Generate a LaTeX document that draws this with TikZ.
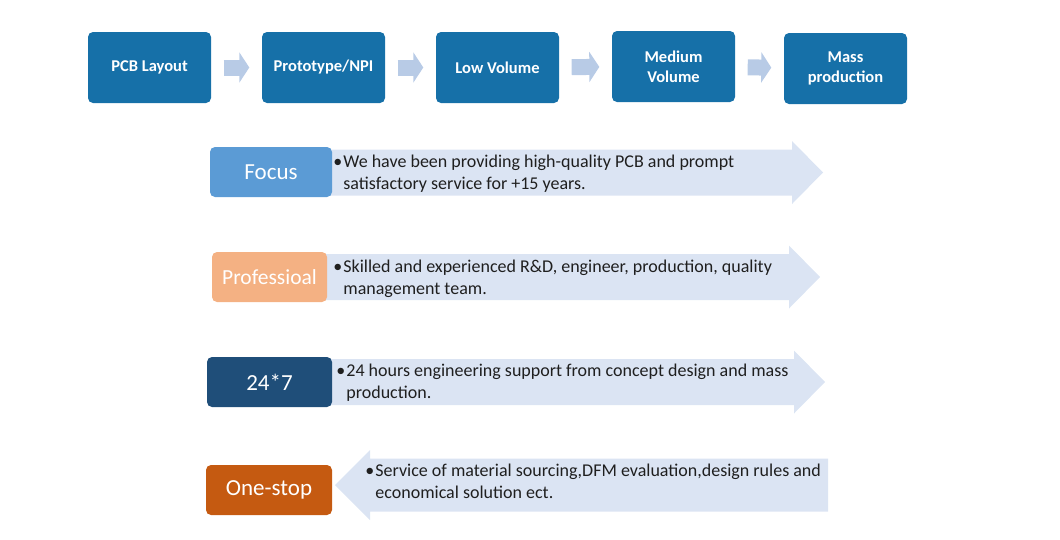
\documentclass[tikz,border=0pt]{standalone}
\usepackage{fontspec}
\setmainfont{Carlito}
\usetikzlibrary{positioning,arrows.meta}

\definecolor{stageblue}{RGB}{22,112,168}
\definecolor{chevblue}{RGB}{184,203,230}
\definecolor{bandblue}{RGB}{219,228,243}
\definecolor{focusblue}{RGB}{91,155,213}
\definecolor{profpeach}{RGB}{244,177,131}
\definecolor{navyblue}{RGB}{31,78,121}
\definecolor{stoporange}{RGB}{197,90,17}

\newcommand{\bulletlines}[2]{\makebox[10pt][l]{\textbullet}%
  \begin{tabular}[t]{@{}l@{}}#1\\#2\end{tabular}}

\begin{document}
\begin{tikzpicture}[x=1pt,y=-1pt,node distance=174pt,
    stage/.style={fill=stageblue, rounded corners=5pt, minimum width=123pt,
      minimum height=71pt, inner sep=2pt, text=white, align=center,
      font=\fontsize{16.5}{20}\selectfont\bfseries},
    chevron/.style={draw=chevblue, line width=16pt, shorten <=12.5pt,
      shorten >=12.5pt, -{Triangle[length=10pt,width=30pt]}},
    tagbox/.style={rounded corners=5pt, minimum height=50pt, text=white,
      font=\fontsize{23}{27}\selectfont},
    bullettext/.style={inner sep=0pt, font=\fontsize{18}{21.5}\selectfont,
      text=black!88}]
  \useasboundingbox (0,0) rectangle (1060,539);

  % production stages
  \node[stage] (pcb) at (149.5,67.5) {PCB Layout};
  \node[stage] (proto)[right of=pcb] {Prototype/NPI};
  \node[stage] (low)[right of=proto] {Low Volume};
  \node[stage] (medium)[right of=low, xshift=2pt, yshift=1pt] {Medium\\Volume};
  \node[stage] (mass)[right of=medium, xshift=-2pt, yshift=-2pt] {Mass\\production};
  \draw[chevron] (pcb) -- (proto);
  \draw[chevron] (proto) -- (low);
  \draw[chevron] (low) -- (medium);
  \draw[chevron] (medium) -- (mass);

  % bands behind the text
  \fill[bandblue] (318,149.5) -- (792,149.5) -- (792,141) -- (823,172.5)
    -- (792,204) -- (792,195.5) -- (318,195.5) -- cycle;
  \fill[bandblue] (318,254) -- (789,254) -- (789,245.5) -- (820,277)
    -- (789,308.5) -- (789,300) -- (318,300) -- cycle;
  \fill[bandblue] (318,359) -- (794,359) -- (794,350.5) -- (825,382)
    -- (794,413.5) -- (794,405) -- (318,405) -- cycle;
  \fill[bandblue] (828,458.5) -- (370,458.5) -- (370,450) -- (335,485)
    -- (370,520) -- (370,511.5) -- (828,511.5) -- cycle;

  % strengths
  \node[tagbox, fill=focusblue, minimum width=122pt] (focus) at (271,172) {Focus};
  \node[tagbox, fill=profpeach, minimum width=115pt,
    font=\fontsize{21.5}{26}\selectfont] (prof) at (269.5,277) {Professioal};
  \node[tagbox, fill=navyblue, minimum width=125pt] (allday) at (269.5,382) {24*7};
  \node[tagbox, fill=stoporange, minimum width=126pt] (onestop) at (269,490) {One-stop};

  \node[bullettext, right=1pt of focus, yshift=-2pt] (focustxt)
    {\bulletlines{We have been providing high-quality PCB and prompt}{satisfactory service for +15 years.}};
  \node[bullettext, right=6pt of prof, yshift=-2pt] (proftxt)
    {\bulletlines{Skilled and experienced R\&D, engineer, production, quality}{management team.}};
  \node[bullettext, right=4pt of allday, yshift=-1pt] (alldaytxt)
    {\bulletlines{24 hours engineering support from concept design and mass}{production.}};
  \node[bullettext, right=33pt of onestop, yshift=7pt] (onestoptxt)
    {\bulletlines{Service of material sourcing,DFM evaluation,design rules and}{economical solution ect.}};
\end{tikzpicture}
\end{document}
